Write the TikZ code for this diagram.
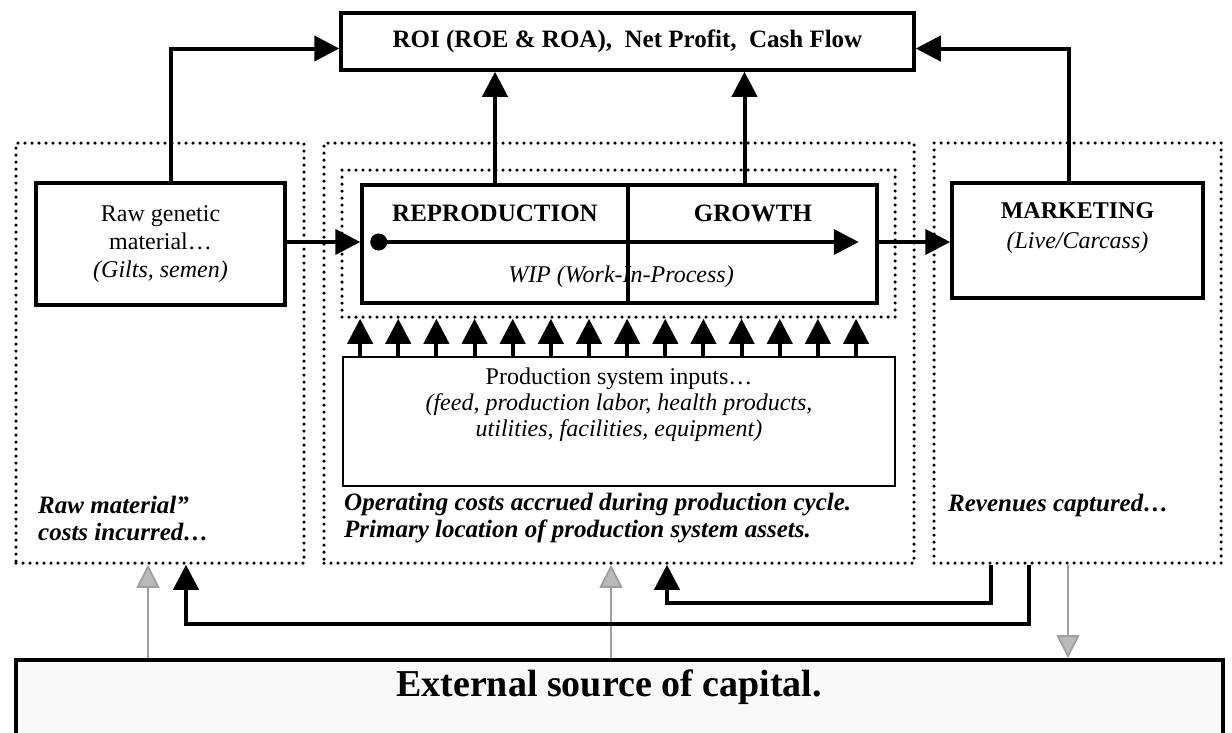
\documentclass[tikz,border=0pt]{standalone}
\usepackage{fontspec}
\setmainfont{Liberation Serif}
\usetikzlibrary{arrows.meta,positioning,calc}

\begin{document}
\begin{tikzpicture}[
    x=1pt, y=-1pt,
    txt/.style={font=\fontsize{24}{28}\selectfont, align=center, inner sep=0pt},
    bold/.style={txt, font=\fontsize{25}{30}\selectfont\bfseries},
    lbl/.style={txt, align=left, font=\fontsize{25}{27}\selectfont\bfseries\itshape},
    box/.style={draw, line width=3.5pt, inner sep=0pt},
    dotbox/.style={draw, line width=3.5pt, line cap=round, dash pattern=on 0pt off 7pt,
    inner sep=0pt},
    arr/.style={-{Triangle[length=25pt,width=25pt]}, line width=4pt},
    garr/.style={-{Triangle[length=23pt,width=23pt,fill=gray!55]}, draw=gray!75,
    line width=1.8pt}
]
\path[use as bounding box] (0,0) rectangle (1232,732);

% cost centres
\node[dotbox, minimum width=288, minimum height=420] (rawcol) at (160,353) {};
\node[dotbox, minimum width=590, minimum height=420] (midcol) at (619,353) {};
\node[dotbox, minimum width=287, minimum height=420] (rightcol) at (1077.5,353) {};
\node[dotbox, minimum width=553, minimum height=147] (wip) at (618.5,243.5) {};

\node[box, minimum width=573, minimum height=57] (roi) at (627.5,41.5) {};
\node[bold] (roitxt) at (roi) {ROI (ROE \& ROA),\ \ Net Profit,\ \ Cash Flow};

\node[box, minimum width=249, minimum height=122, txt] (raw) at (160.5,244)
    {Raw genetic\\material…\\\textit{(Gilts, semen)}};

\node[box, minimum width=266, minimum height=118] (repro) at (495,244) {};
\node[box, minimum width=249, minimum height=118] (growth) at (752.5,244) {};
\node[bold] (reprotxt) at (495,213) {REPRODUCTION};
\node[bold] (growthtxt) at (753,213) {GROWTH};
\node[txt] (wiptxt) at (621,277) {\textit{WIP (Work-In-Process)}};

\node[box, minimum width=251, minimum height=115] (mkt) at (1077.5,240.5) {};
\node[txt, font=\fontsize{24}{30}\selectfont] (mkttxt) at (1077.5,228)
    {\textbf{MARKETING}\\\textit{(Live/Carcass)}};

\node[draw, line width=1.8pt, minimum width=552, minimum height=129] (inputs) at (619,421.5) {};
\node[txt, font=\fontsize{24}{26}\selectfont] (inputstxt) at (619,405)
    {Production system inputs…\\\textit{(feed, production labor, health products,}\\
    \textit{utilities, facilities, equipment)}};

\node[lbl, anchor=west] (rawlbl) at (38,518) {Raw material”\\costs incurred…};
\node[lbl, anchor=west] (oplbl) at (344,518)
    {Operating costs accrued during production cycle.\\Primary location of production system assets.};
\node[lbl, anchor=west] (revlbl) at (948,505) {Revenues captured…};

% capital
\begin{scope}
\clip (0,0) rectangle (1232,732);
\node[box, fill=gray!5, minimum width=1207, minimum height=90, anchor=north west] (capital)
    at (14,658) {};
\end{scope}
\node[font=\fontsize{38}{40}\selectfont\bfseries, inner sep=0pt] (captxt) at (609,687)
    {External source of capital.};

% flows to the top
\draw[arr] ([xshift=10pt]raw.north) |- ([yshift=-7pt]roi.west);
\draw[arr] (repro.north) -- (repro.north |- roi.south);
\draw[arr] ([xshift=-8pt]growth.north) -- ([xshift=-8pt]growth.north |- roi.south);
\draw[arr] ([xshift=-9pt]mkt.north) |- ([yshift=-7pt]roi.east);

\draw[arr] ([yshift=2pt]raw.east) -- ([yshift=2pt]raw.east -| repro.west);
\draw[arr] ([yshift=2pt]growth.east) -- ([yshift=2pt]growth.east -| mkt.west);
\draw[line width=4pt, {Circle[length=17pt]}-{Triangle[length=25pt,width=25pt]}]
    ([xshift=10pt,yshift=2pt]repro.west) -- ([xshift=-20pt,yshift=2pt]growth.east);

\foreach \i in {0,...,13}{
    \path ($(inputs.north west)+(18+38.15*\i,0)$) coordinate (in\i);
    \draw[arr] (in\i) -- (in\i |- wip.south);
}

% capital flows
\draw[garr] (capital.north -| 148,0) -- (rawcol.south -| 148,0);
\draw[garr] (capital.north -| 611,0) -- (midcol.south -| 611,0);
\draw[garr] (rightcol.south -| 1068,0) -- (capital.north -| 1068,0);
\draw[arr] (rightcol.south -| 1029,0) -- ++(0,59) -| (rawcol.south -| 186,0);
\draw[arr] (rightcol.south -| 991,0) -- ++(0,38) -| (midcol.south -| 667,0);
\end{tikzpicture}
\end{document}
